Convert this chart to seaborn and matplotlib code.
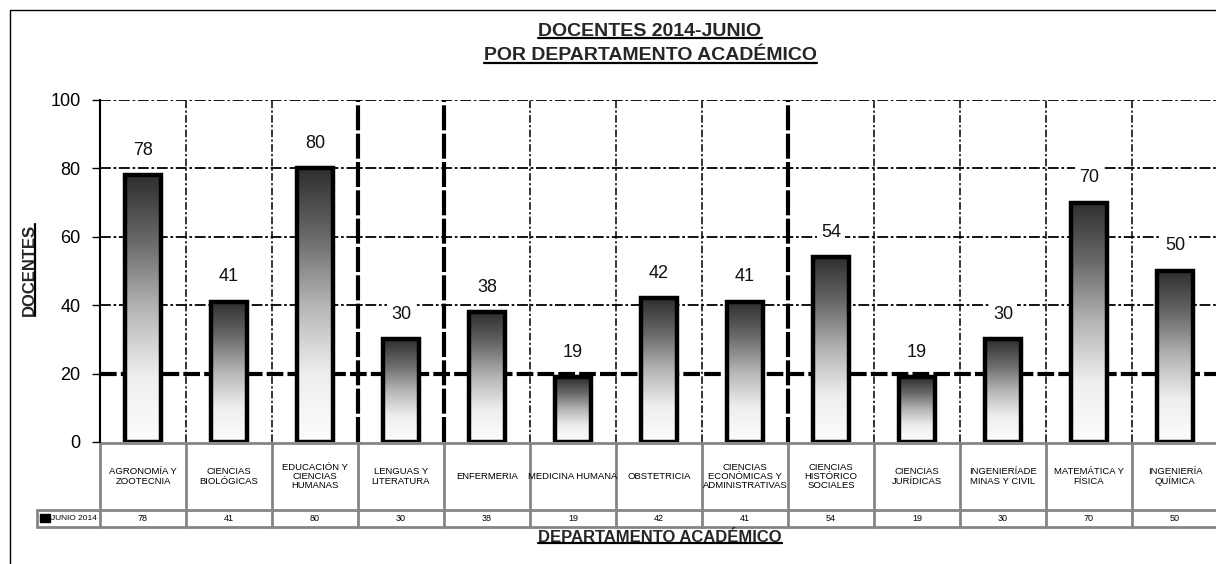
import numpy as np
import matplotlib
matplotlib.use("Agg")
import matplotlib.pyplot as plt
import matplotlib.transforms as mtransforms
from matplotlib.lines import Line2D
from matplotlib.patches import Rectangle
from matplotlib.colors import LinearSegmentedColormap
import seaborn as sns
import pandas as pd

# ---------------- data ----------------
departamentos = ["AGRONOMÍA Y ZOOTECNIA", "CIENCIAS BIOLÓGICAS", "EDUCACIÓN Y CIENCIAS HUMANAS",
                 "LENGUAS Y LITERATURA", "ENFERMERIA", "MEDICINA HUMANA", "OBSTETRICIA",
                 "CIENCIAS ECONÓMICAS Y ADMINISTRATIVAS", "CIENCIAS HISTÓRICO SOCIALES",
                 "CIENCIAS JURÍDICAS", "INGENIERÍADE MINAS Y CIVIL", "MATEMÁTICA Y FÍSICA",
                 "INGENIERÍA QUÍMICA"]
etiquetas = ["AGRONOMÍA Y\nZOOTECNIA", "CIENCIAS\nBIOLÓGICAS", "EDUCACIÓN Y\nCIENCIAS\nHUMANAS",
             "LENGUAS Y\nLITERATURA", "ENFERMERIA", "MEDICINA HUMANA", "OBSTETRICIA",
             "CIENCIAS\nECONÓMICAS Y\nADMINISTRATIVAS", "CIENCIAS\nHISTÓRICO\nSOCIALES",
             "CIENCIAS\nJURÍDICAS", "INGENIERÍADE\nMINAS Y CIVIL", "MATEMÁTICA Y\nFÍSICA",
             "INGENIERÍA\nQUÍMICA"]
docentes = [78, 41, 80, 30, 38, 19, 42, 41, 54, 19, 30, 70, 50]
serie = "JUNIO 2014"
yticks = [0, 20, 40, 60, 80, 100]
titulo1 = "DOCENTES 2014-JUNIO"
titulo2 = "POR DEPARTAMENTO ACADÉMICO"
ylabel = "DOCENTES"
xlabel = "DEPARTAMENTO ACADÉMICO"

# ---------------- style ----------------
sns.set_theme(style="white")
plt.rcParams['font.family'] = ['Liberation Sans Narrow', 'Liberation Sans', 'DejaVu Sans']

W, H = 1216, 564
fig = plt.figure(figsize=(W / 100, H / 100), dpi=100)
fig.patch.set_facecolor("white")


def fx(px):
    return px / W


def fy(py):
    return 1 - py / H


ax = fig.add_axes([fx(100), fy(442), fx(1218) - fx(100), fy(100) - fy(442)])
ax.set_facecolor("white")

df = pd.DataFrame({"dep": departamentos, "doc": docentes})
sns.barplot(data=df, x="dep", y="doc", ax=ax, width=0.43, color="white",
            edgecolor="black", linewidth=3.2, saturation=1, zorder=3)

# gradient fill inside bars
grad = np.linspace(0, 1, 256).reshape(-1, 1)
cmap = LinearSegmentedColormap.from_list("g", ["#2e2e2e", "#6a6a6a", "#b5b5b5", "#eeeeee", "#fdfdfd"])
for p in ax.patches:
    x0, y0, w, h = p.get_x(), p.get_y(), p.get_width(), p.get_height()
    ax.imshow(grad, extent=[x0, x0 + w, y0, y0 + h], origin="upper", aspect="auto",
              cmap=cmap, zorder=2.8, interpolation="bilinear")
    p.set_facecolor("none")
    p.set_zorder(3)

n = len(departamentos)
ax.set_xlim(-0.5, n - 0.5)
ax.set_ylim(0, 100)

# grid lines
for v in yticks[2:]:
    ax.axhline(v, color="black", lw=1.3, dashes=[6, 1.5, 1.5, 1.5], zorder=1)
ax.axhline(yticks[1], color="black", lw=3, dashes=[4, 1], zorder=1)
for k in range(1, n):
    if k in (3, 4, 8):
        ax.axvline(k - 0.5, color="black", lw=3, dashes=[6, 0.8], zorder=1)
    else:
        ax.axvline(k - 0.5, color="black", lw=1.1, dashes=[5, 1.5, 1.5, 1.5], zorder=1)

# spines / ticks
for s in ["top", "right", "bottom"]:
    ax.spines[s].set_visible(False)
ax.spines["left"].set_color("black")
ax.spines["left"].set_linewidth(1.5)
ax.set_yticks(yticks)
ax.set_yticklabels([str(t) for t in yticks], fontsize=13)
ax.tick_params(axis="y", left=True, length=6, width=1, color="black", pad=8, labelcolor="black")
ax.set_xticks([])
ax.set_xlabel("")
ax.set_ylabel("")

# value labels
for i, v in enumerate(docentes):
    ax.annotate(str(v), (i, v), xytext=(0, 18), textcoords="offset points", ha="center",
                va="center", fontsize=13, color="#111111",
                bbox=dict(fc="white", ec="none", pad=3), zorder=4)

# ---------------- data table ----------------
bt = mtransforms.blended_transform_factory(ax.transData, fig.transFigure)
gray = "#858585"
top, mid, bot = 443, 510, 527
for yy in (top, mid, bot):
    ax.add_line(Line2D([-0.5, n - 0.5], [fy(yy), fy(yy)], transform=bt, color=gray, lw=2,
                       clip_on=False))
for k in range(n + 1):
    ax.add_line(Line2D([k - 0.5, k - 0.5], [fy(top), fy(bot)], transform=bt, color=gray, lw=2,
                       clip_on=False))
# row-label cell
fig.add_artist(Line2D([fx(37), fx(100)], [fy(mid), fy(mid)], transform=fig.transFigure, color=gray, lw=2))
fig.add_artist(Line2D([fx(37), fx(100)], [fy(bot), fy(bot)], transform=fig.transFigure, color=gray, lw=2))
fig.add_artist(Line2D([fx(37), fx(37)], [fy(mid), fy(bot)], transform=fig.transFigure, color=gray, lw=2))
fig.add_artist(Rectangle((fx(40), fy(522)), fx(10), fy(514) - fy(522), transform=fig.transFigure,
                         color="black"))
fig.text(fx(51), fy(518.5), serie, fontsize=6, ha="left", va="center", color="black")

for i, (lab, v) in enumerate(zip(etiquetas, docentes)):
    ax.text(i, fy((top + mid) / 2), lab, transform=bt, ha="center", va="center", fontsize=6.8,
            linespacing=1.05, color="black", clip_on=False)
    ax.text(i, fy((mid + bot) / 2), str(v), transform=bt, ha="center", va="center", fontsize=6.5,
            color="black", clip_on=False)

# ---------------- titles ----------------
t1 = fig.text(fx(650), fy(31), titulo1, ha="center", va="center", fontsize=14, fontweight="bold")
t2 = fig.text(fx(650), fy(56), titulo2, ha="center", va="center", fontsize=14, fontweight="bold")
yl = fig.text(fx(29), fy(270), ylabel, ha="center", va="center", rotation=90, fontsize=12,
              fontweight="bold")
xl = fig.text(fx(660), fy(537), xlabel, ha="center", va="center", fontsize=12, fontweight="bold")

# figure border
fig.add_artist(Line2D([fx(9.5), fx(9.5), 1], [0, fy(9.5), fy(9.5)], transform=fig.transFigure,
                      color="black", lw=1))

# underlines
fig.canvas.draw()
r = fig.canvas.get_renderer()
for t in (t1, t2, xl):
    bb = t.get_window_extent(r)
    yy = bb.y0 + 2
    fig.add_artist(Line2D([bb.x0 / W, bb.x1 / W], [yy / H, yy / H], transform=fig.transFigure,
                          color="black", lw=1.6))
bb = yl.get_window_extent(r)
xx = bb.x1 - 2
fig.add_artist(Line2D([xx / W, xx / W], [bb.y0 / H, bb.y1 / H], transform=fig.transFigure,
                      color="black", lw=1.6))

fig.savefig("out.png", dpi=100, facecolor="white")
